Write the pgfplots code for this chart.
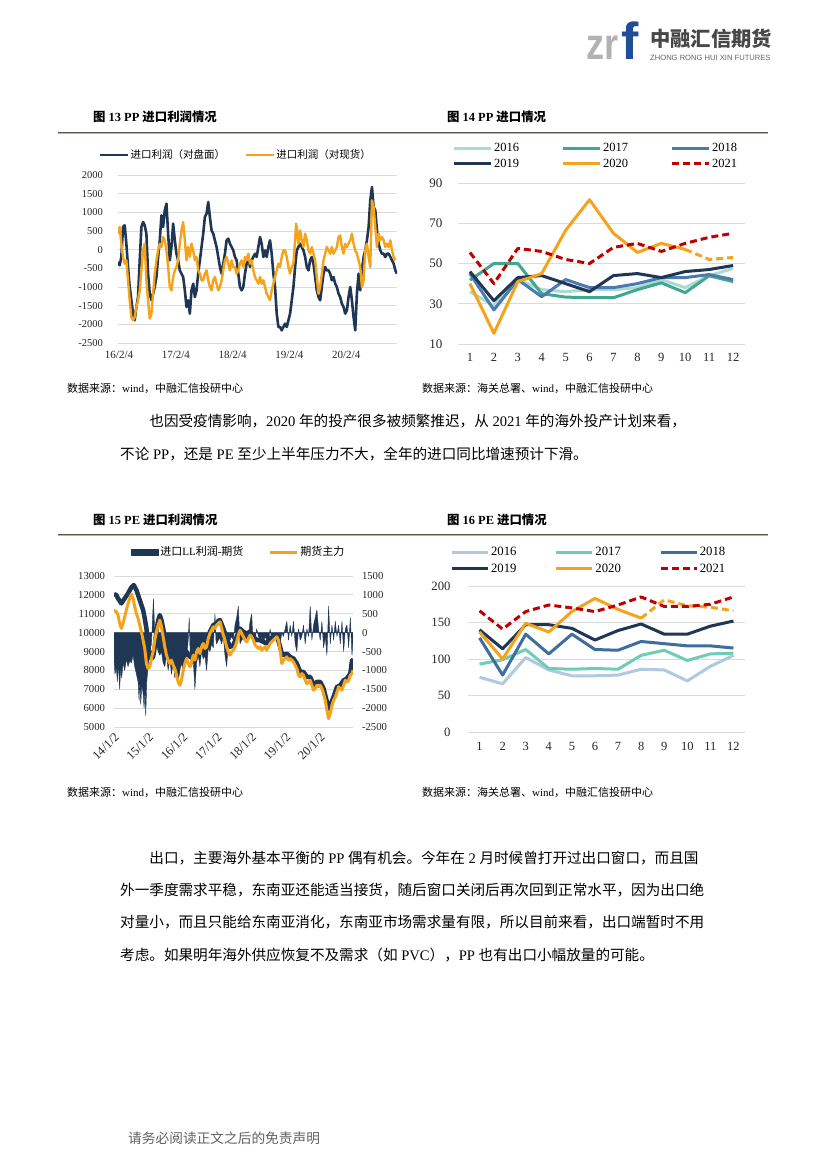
\documentclass[border=0pt]{standalone}
\usepackage{fontspec}
\setmainfont{Liberation Serif}
\setsansfont{Liberation Sans}
\newfontfamily\cjk{Noto Sans CJK SC}
\usepackage{pgfplots}
\pgfplotsset{compat=1.18}
\newcommand\C[1]{{\cjk #1}}
\newcommand\fs[1]{\fontsize{#1}{#1}\selectfont}

\definecolor{cnavy}{HTML}{1F3755}
\definecolor{corg}{HTML}{F5A31A}
\definecolor{aA}{HTML}{A8DCD0}
\definecolor{aB}{HTML}{40A891}
\definecolor{aC}{HTML}{4A7AB0}
\definecolor{bA}{HTML}{B0C8E0}
\definecolor{bB}{HTML}{6ECDB4}
\definecolor{bC}{HTML}{3E6E9E}
\definecolor{cred}{HTML}{C00000}
\definecolor{crule}{HTML}{5A5A4B}
\definecolor{logoblue}{HTML}{1F4E96}

\pgfplotsset{
  base/.style={
    scale only axis, anchor=south west,
    axis line style={draw=none},
    major tick length=0pt, tick style={draw=none},
    ymajorgrids, grid style={line width=0.8pt, draw=black!14},
    scaled y ticks=false, scaled x ticks=false,
    /pgf/number format/assume math mode=true,
    /pgf/number format/1000 sep={},
    tick label style={text=black!85},
    every axis plot/.append style={line join=round},
    legend cell align=left,
    legend style={draw=none, fill=none, inner sep=0pt, outer sep=0pt, anchor=west},
  }
}

\begin{document}
\begin{tikzpicture}[x=1pt,y=1pt]
\path[use as bounding box, fill=white] (0,0) rectangle (826,-1169);

% ---------- header logo
\node[anchor=base west, inner sep=0, text=black!30] at (586,-60) {\fs{44}\sffamily\bfseries\scalebox{0.82}[1]{zr}};
\node[anchor=base west, inner sep=0, text=logoblue] at (621,-60) {\fs{52}\sffamily\bfseries f};
\node[anchor=west, inner sep=0, text=black!72] at (650,-39) {\fs{20.3}\cjk\bfseries 中融汇信期货};
\node[anchor=west, inner sep=0, text=black!60] at (650,-57.5) {\fs{7.6}\sffamily ZHONG RONG HUI XIN FUTURES};

% ---------- titles and rules
\node[anchor=base west, inner sep=0] at (93,-121.7) {\fs{12.4}\bfseries\C{图} 13 PP \C{进口利润情况}};
\node[anchor=base west, inner sep=0] at (447,-121.7) {\fs{12.4}\bfseries\C{图} 14 PP \C{进口情况}};
\node[anchor=base west, inner sep=0] at (93,-524.7) {\fs{12.4}\bfseries\C{图} 15 PE \C{进口利润情况}};
\node[anchor=base west, inner sep=0] at (447,-524.7) {\fs{12.4}\bfseries\C{图} 16 PE \C{进口情况}};
\foreach \yy in {-133,-535}{
  \draw[crule, line width=2.8pt] (58,\yy) -- (768,\yy);
  \draw[black!30, line width=0.7pt] (58,\yy) -- (768,\yy);
}

% ---------- sources
\node[anchor=base west, inner sep=0] at (67,-392.2) {\fs{11}\C{数据来源：}wind\C{，中融汇信投研中心}};
\node[anchor=base west, inner sep=0] at (422,-392.2) {\fs{11}\C{数据来源：海关总署、}wind\C{，中融汇信投研中心}};
\node[anchor=base west, inner sep=0] at (67,-796.9) {\fs{11}\C{数据来源：}wind\C{，中融汇信投研中心}};
\node[anchor=base west, inner sep=0] at (422,-796.9) {\fs{11}\C{数据来源：海关总署、}wind\C{，中融汇信投研中心}};

% ---------- body text
\begin{scope}[every node/.style={anchor=base west, inner sep=0, font=\fs{14.6}}]
\node at (149.2,-426.5) {\C{也因受疫情影响，}2020 \C{年的投产很多被频繁推迟，从} 2021 \C{年的海外投产计划来看，}};
\node at (120,-459.5) {\C{不论} PP\C{，还是} PE \C{至少上半年压力不大，全年的进口同比增速预计下滑。}};
\node at (149.2,-863.5) {\C{出口，主要海外基本平衡的} PP \C{偶有机会。今年在} 2 \C{月时候曾打开过出口窗口，而且国}};
\node at (120,-895.5) {\C{外一季度需求平稳，东南亚还能适当接货，随后窗口关闭后再次回到正常水平，因为出口绝}};
\node at (120,-927.5) {\C{对量小，而且只能给东南亚消化，东南亚市场需求量有限，所以目前来看，出口端暂时不用}};
\node at (120,-960.5) {\C{考虑。如果明年海外供应恢复不及需求（如} PVC\C{），}PP \C{也有出口小幅放量的可能。}};
\end{scope}
\node[anchor=base west, inner sep=0, text=black!62] at (128,-1143.2) {\fs{13.7}\C{请务必阅读正文之后的免责声明}};

% ================= Chart 13: PP import profit
\begin{axis}[base, at={(118pt,-343pt)}, width=279pt, height=168pt,
  xmin=175, xmax=1010, ymin=-2500, ymax=2000,
  ytick={-2500,-2000,...,2000},
  xtick={178,348,518,688,858},
  xticklabels={16/2/4,17/2/4,18/2/4,19/2/4,20/2/4},
  yticklabel style={font=\fs{10.5}, xshift=-11.5pt},
  xticklabel style={font=\fs{11}, yshift=-5pt},
  legend columns=2,
  legend style={at={(-0.0699,1.119)}, nodes={inner sep=1.5pt, font=\fs{10.5}},
    /tikz/every even column/.append style={column sep=18pt}},
  legend image code/.code={\draw[#1] (0pt,0pt) -- (28pt,0pt);},
]
\addplot[cnavy, line width=2.6pt] coordinates {(175,-330)(180,-420)(185,-196)(190,607)(195,652)(200,161)(205,-464)(210,-1000)(215,-1357)(220,-1714)(225,-1893)(230,-1536)(235,-1268)(240,-286)(245,607)(250,741)(255,652)(260,429)(265,-643)(270,-1179)(275,-1357)(280,-1179)(285,-1000)(290,-732)(295,-196)(300,250)(305,920)(310,607)(315,1054)(320,1232)(325,429)(330,-286)(335,71)(340,697)(345,250)(350,-107)(355,-286)(360,-554)(365,-643)(370,-732)(375,-1089)(380,-1536)(385,-1357)(390,-1714)(395,-1089)(400,-911)(405,-1268)(410,-1089)(415,-643)(420,-286)(425,71)(430,429)(435,875)(440,964)(445,1277)(450,875)(455,518)(460,429)(465,250)(470,71)(475,-196)(480,-464)(485,-643)(490,-375)(495,-107)(500,250)(505,295)(510,161)(515,71)(520,-18)(525,-196)(530,-286)(535,-643)(540,-1000)(545,-1089)(550,-1000)(555,-643)(560,-375)(565,-196)(570,-464)(575,-286)(580,-196)(585,-107)(590,-196)(595,71)(600,339)(605,161)(610,-196)(615,-18)(620,-196)(625,71)(630,250)(635,-107)(640,-643)(645,-1000)(650,-1714)(655,-2071)(660,-2071)(665,-2161)(670,-2071)(675,-1982)(680,-2071)(685,-1893)(690,-1714)(695,-1357)(700,-1000)(705,-464)(710,-18)(715,71)(720,161)(725,71)(730,-18)(735,-196)(740,-464)(745,-554)(750,-286)(755,-196)(760,-375)(765,-732)(770,-1089)(775,-1268)(780,-1357)(785,-1000)(790,-643)(795,-464)(800,-554)(805,-554)(810,-643)(815,-821)(820,-732)(825,-911)(830,-1000)(835,-1179)(840,-1268)(845,-1446)(850,-1536)(855,-1714)(860,-1625)(865,-1268)(870,-1000)(875,-1357)(880,-1804)(885,-2161)(890,-1179)(895,-643)(900,-1089)(905,-554)(910,-196)(915,-18)(920,250)(925,607)(930,1322)(935,1679)(940,1143)(945,1054)(950,518)(955,161)(960,-18)(965,-107)(970,-107)(975,-196)(980,-107)(985,-107)(990,-196)(995,-286)(1000,-375)(1005,-554)(1010,-643)};
\addlegendentry{\C{进口利润（对盘面）}}
\addplot[corg, line width=2.4pt] coordinates {(175,429)(180,607)(185,161)(190,-196)(195,-375)(200,-286)(205,-821)(210,-1357)(215,-1804)(220,-1893)(225,-1804)(230,-1536)(235,-1357)(240,-1089)(245,-554)(250,-18)(255,161)(260,-821)(265,-1357)(270,-1848)(275,-1714)(280,-1179)(285,-643)(290,-286)(295,-18)(300,161)(305,71)(310,339)(315,250)(320,-18)(325,-464)(330,-1000)(335,-1089)(340,-732)(345,-554)(350,-464)(355,-286)(360,161)(365,518)(370,741)(375,250)(380,-286)(385,71)(390,-196)(395,161)(400,-18)(405,-286)(410,-196)(415,-554)(420,-643)(425,-821)(430,-821)(435,-643)(440,-554)(445,-821)(450,-1000)(455,-1089)(460,-821)(465,-732)(470,-911)(475,-1089)(480,-1000)(485,-821)(490,-554)(495,-286)(500,-196)(505,-375)(510,-554)(515,-286)(520,-464)(525,-464)(530,-643)(535,-554)(540,-375)(545,-286)(550,-464)(555,-196)(560,-286)(565,-107)(570,-375)(575,-286)(580,-554)(585,-732)(590,-821)(595,-911)(600,-732)(605,-911)(610,-821)(615,-1000)(620,-1179)(625,-1268)(630,-1357)(635,-1089)(640,-911)(645,-732)(650,-554)(655,-375)(660,-464)(665,-196)(670,-18)(675,-18)(680,-196)(685,-464)(690,-643)(695,-464)(700,-375)(705,250)(708,697)(712,429)(715,161)(720,518)(725,250)(730,71)(735,429)(740,250)(745,-18)(750,-107)(755,71)(760,-107)(765,-286)(770,-732)(775,-1179)(780,-1000)(785,-643)(790,-286)(795,-107)(800,71)(805,-18)(810,-107)(815,71)(820,-107)(825,-18)(830,71)(835,339)(840,384)(845,71)(850,-107)(855,161)(860,71)(865,161)(870,250)(875,429)(880,161)(885,-18)(890,-107)(895,-286)(900,-464)(905,-1000)(910,-821)(915,-18)(920,161)(925,-196)(930,-464)(935,1322)(940,1143)(945,607)(950,71)(955,429)(960,250)(965,339)(970,250)(975,71)(980,161)(985,71)(990,250)(995,-18)(1000,-196)(1005,-286)};
\addlegendentry{\C{进口利润（对现货）}}
\end{axis}

% ================= Chart 14: PP imports
\begin{axis}[base, at={(458pt,-344pt)}, width=287pt, height=161pt,
  xmin=0.5, xmax=12.5, ymin=10, ymax=90,
  xtick={1,...,12}, ytick={10,30,50,70,90},
  yticklabel style={font=\fs{13}, xshift=-12pt},
  xticklabel style={font=\fs{12.5}, yshift=-6pt},
  legend columns=3,
  legend style={at={(-0.019,1.168)}, row sep=2.5pt, nodes={inner sep=1.5pt, font=\fs{12.5}},
    /tikz/every even column/.append style={column sep=41pt}},
  legend image code/.code={\draw[#1] (0pt,0pt) -- (37pt,0pt);},
]
\addplot[aA, line width=3pt] coordinates {(1,36)(2,29)(3,42)(4,37)(5,36)(6,37)(7,37)(8,38)(9,42)(10,38)(11,44)(12,47.5)};
\addlegendentry{2016}
\addplot[aB, line width=3pt] coordinates {(1,41.7)(2,50)(3,50)(4,35)(5,33.3)(6,33)(7,33)(8,37)(9,40.4)(10,35.5)(11,43.9)(12,41)};
\addlegendentry{2017}
\addplot[aC, line width=3pt] coordinates {(1,45)(2,26.9)(3,42)(4,33.5)(5,42)(6,38)(7,38)(8,40)(9,43)(10,43)(11,44.5)(12,42)};
\addlegendentry{2018}
\addplot[cnavy, line width=3pt] coordinates {(1,46)(2,31.5)(3,43)(4,44)(5,40)(6,36)(7,44)(8,45)(9,43)(10,46)(11,47)(12,49)};
\addlegendentry{2019}
\addplot[corg, line width=3pt] coordinates {(1,40)(2,15.3)(3,41)(4,45)(5,66.5)(6,81.7)(7,65)(8,55.5)(9,60)(10,57)};
\addlegendentry{2020}
\addplot[corg, line width=3pt, dash pattern=on 7pt off 4pt, forget plot] coordinates {(10,57)(11,52)(12,53)};
\addplot[cred, line width=3pt, dash pattern=on 7pt off 4pt] coordinates {(1,55.5)(2,40)(3,57.5)(4,56)(5,52)(6,50)(7,58)(8,60)(9,56)(10,60)(11,63)(12,65)};
\addlegendentry{2021}
\end{axis}

% ================= Chart 15: PE import profit (right axis: profit area)
\begin{axis}[base, at={(114pt,-727pt)}, width=239pt, height=151pt,
  xmin=163, xmax=878, ymin=-2500, ymax=1500,
  ytick={-2500,-2000,...,1500}, xtick=\empty,
  yticklabel pos=right,
  yticklabel style={font=\fs{10.7}, anchor=west, xshift=5.5pt},
]
\addplot[fill=cnavy, draw=cnavy, line width=0.4pt] coordinates {(163,-700)(166,-1100)(170,-900)(173,-1300)(176,-800)(180,-1500)(183,-900)(186,-1200)(190,-800)(195,-1000)(200,-700)(205,-900)(210,-750)(215,-800)(220,-600)(225,-900)(230,-1100)(235,-1300)(238,-1800)(240,-1200)(243,-1900)(246,-1400)(250,-1600)(253,-2000)(256,-1500)(258,-2200)(261,-1300)(265,-900)(270,-500)(275,-300)(278,300)(281,900)(284,200)(287,-400)(290,-300)(295,-500)(300,-600)(305,-500)(310,-800)(315,-900)(320,-600)(325,-1000)(330,-700)(335,-1100)(340,-800)(345,-1200)(350,-900)(355,-1300)(360,-1000)(365,-800)(370,-1100)(375,-900)(380,-700)(385,-200)(388,400)(391,-600)(395,-900)(400,-700)(405,-1500)(410,-800)(415,-600)(420,-900)(425,-500)(430,-700)(435,-600)(440,-1000)(445,-400)(450,-500)(455,-300)(460,-400)(465,500)(468,-200)(470,-300)(475,-200)(480,-150)(485,-300)(490,-100)(495,-600)(500,-900)(505,-300)(510,-200)(515,-100)(520,-200)(525,200)(530,400)(535,700)(538,100)(540,-300)(545,-200)(550,-150)(555,-100)(560,-200)(565,-100)(570,300)(575,500)(578,-100)(580,-100)(585,-200)(590,100)(595,-100)(600,-200)(605,-100)(610,-300)(615,-100)(620,-200)(625,-300)(630,100)(635,-200)(640,-100)(645,-200)(650,-100)(655,-200)(660,-300)(665,0)(670,-100)(675,100)(680,300)(685,-200)(690,200)(695,-100)(700,300)(705,-300)(710,-500)(715,100)(720,-200)(725,-100)(730,200)(735,-300)(740,100)(745,-100)(750,700)(755,-200)(760,200)(765,400)(770,600)(775,100)(780,-200)(785,300)(790,-400)(795,-100)(800,-600)(805,700)(810,-300)(815,200)(820,-200)(825,300)(830,-100)(835,200)(840,-300)(845,300)(850,-500)(855,100)(860,200)(865,-400)(870,400)(875,-600)(878,-200)} \closedcycle;
\end{axis}
% left axis: prices
\begin{axis}[base, at={(114pt,-727pt)}, width=239pt, height=151pt,
  ymajorgrids=false,
  xmin=163, xmax=878, ymin=5000, ymax=13000,
  ytick={5000,6000,...,13000},
  xtick={163,265,368,470,573,676,778},
  xticklabels={14/1/2,15/1/2,16/1/2,17/1/2,18/1/2,19/1/2,20/1/2},
  yticklabel style={font=\fs{10.7}, xshift=-5.5pt},
  xticklabel style={font=\fs{12.5}, rotate=45, anchor=north east},
  legend columns=2,
  legend style={at={(0.073,1.159)}, nodes={inner sep=1.5pt, font=\fs{11}},
    /tikz/every even column/.append style={column sep=24pt}},
  legend image code/.code={\draw[#1] (0pt,0pt) -- (27pt,0pt);},
]
\addlegendimage{legend image code/.code={\fill[cnavy] (0pt,-3pt) rectangle (27pt,3pt);}}
\addlegendentry{\C{进口}LL\C{利润}-\C{期货}}
\addplot[cnavy, line width=4.5pt, forget plot] coordinates {(163,12044)(170,11991)(175,11814)(185,11549)(195,11814)(205,12080)(215,12398)(222,12522)(230,12257)(240,11726)(250,11195)(255,10752)(260,10221)(265,9425)(270,8717)(275,8628)(280,8717)(285,9248)(290,10133)(295,10628)(300,10929)(305,10664)(310,10221)(315,9779)(320,9425)(325,9248)(330,9071)(340,8982)(350,8717)(355,8540)(360,8363)(365,8540)(370,8805)(380,8982)(390,8717)(400,8982)(410,9248)(420,9336)(430,9602)(440,9602)(450,10044)(460,10398)(470,10487)(475,10628)(480,10664)(490,10221)(500,9690)(510,9248)(520,9336)(530,9779)(540,10221)(550,10044)(560,9956)(570,10044)(580,9779)(590,9602)(600,9602)(610,9513)(620,9425)(630,9690)(640,9779)(650,9867)(660,9248)(665,8894)(670,8805)(680,8894)(690,8717)(700,8628)(710,8363)(720,7920)(730,7920)(740,7655)(750,7655)(760,7212)(770,7389)(780,7389)(790,7035)(800,6327)(805,5973)(810,6150)(820,6593)(830,7124)(840,7212)(850,7478)(860,7566)(870,7832)(875,8540)(878,8363)};
\addplot[corg, line width=3pt] coordinates {(163,11195)(170,11106)(175,10929)(180,10487)(185,10221)(190,10487)(195,10841)(200,11195)(205,11549)(210,11814)(215,12044)(220,11814)(225,11372)(230,11018)(235,10752)(240,10398)(245,10044)(250,9602)(255,9159)(260,8363)(265,8097)(270,8186)(275,8628)(280,8982)(285,9602)(290,10044)(295,10398)(300,10664)(305,10310)(310,9779)(315,9248)(320,8805)(325,8540)(330,8363)(335,8540)(340,8274)(345,8097)(350,7743)(355,7389)(360,7212)(365,7478)(370,8009)(375,8363)(380,8628)(385,8363)(390,8186)(395,8451)(400,8805)(405,8540)(410,8982)(415,9159)(420,8894)(425,9248)(430,9425)(435,9159)(440,9248)(445,9690)(450,9956)(455,10133)(460,10310)(465,10221)(470,10398)(475,10487)(480,10575)(485,10221)(490,9867)(495,9602)(500,9248)(505,8982)(510,8805)(515,8982)(520,9071)(525,9248)(530,9513)(535,9867)(540,10133)(545,9956)(550,9779)(555,9602)(560,9513)(565,9690)(570,9867)(575,9779)(580,9602)(585,9336)(590,9248)(595,9159)(600,9248)(605,9071)(610,9159)(615,9248)(620,9071)(625,9248)(630,9425)(635,9513)(640,9602)(645,9690)(650,9779)(655,9602)(660,9071)(665,8363)(670,8540)(675,8628)(680,8717)(685,8540)(690,8628)(695,8540)(700,8451)(705,8274)(710,8097)(715,7743)(720,7655)(725,7832)(730,7743)(735,7478)(740,7300)(745,7389)(750,7478)(755,7212)(760,6947)(765,7035)(770,7212)(775,7124)(780,7212)(785,7035)(790,6770)(795,6416)(800,5885)(805,5442)(810,5708)(815,6150)(820,6416)(825,6593)(830,6858)(835,7124)(840,7035)(845,6947)(850,7212)(855,7478)(860,7389)(865,7478)(870,7743)(875,7832)(878,8009)};
\addlegendentry{\C{期货主力}}
\end{axis}

% ================= Chart 16: PE imports
\begin{axis}[base, at={(468pt,-732pt)}, width=277pt, height=146pt,
  xmin=0.5, xmax=12.5, ymin=0, ymax=200,
  xtick={1,...,12}, ytick={0,50,...,200},
  yticklabel style={font=\fs{12.7}, xshift=-14pt},
  xticklabel style={font=\fs{12.5}, yshift=-7pt},
  legend columns=3,
  legend style={at={(-0.063,1.175)}, row sep=3.5pt, nodes={inner sep=1.5pt, font=\fs{12.7}},
    /tikz/every even column/.append style={column sep=37pt}},
  legend image code/.code={\draw[#1] (0pt,0pt) -- (36pt,0pt);},
]
\addplot[bA, line width=3pt] coordinates {(1,75)(2,66)(3,102)(4,85)(5,77)(6,77)(7,78)(8,86)(9,85)(10,70)(11,90)(12,105)};
\addlegendentry{2016}
\addplot[bB, line width=3pt] coordinates {(1,93)(2,99)(3,113)(4,87)(5,86)(6,87)(7,86)(8,105)(9,112)(10,98)(11,107)(12,108)};
\addlegendentry{2017}
\addplot[bC, line width=3pt] coordinates {(1,129)(2,78)(3,134)(4,107)(5,134)(6,113)(7,112)(8,124)(9,121)(10,118)(11,118)(12,115)};
\addlegendentry{2018}
\addplot[cnavy, line width=3pt] coordinates {(1,140)(2,114)(3,147)(4,147)(5,142)(6,126)(7,139)(8,148)(9,134)(10,134)(11,145)(12,152)};
\addlegendentry{2019}
\addplot[corg, line width=3pt] coordinates {(1,137)(2,100)(3,149)(4,137)(5,165)(6,183)(7,168)(8,156)};
\addlegendentry{2020}
\addplot[corg, line width=3pt, dash pattern=on 7pt off 4pt, forget plot] coordinates {(8,156)(9,181)(10,173)(11,171)(12,166)};
\addplot[cred, line width=3pt, dash pattern=on 7pt off 4pt] coordinates {(1,166)(2,141)(3,165)(4,174)(5,170)(6,165)(7,174)(8,185)(9,172)(10,172)(11,175)(12,185)};
\addlegendentry{2021}
\end{axis}
\end{tikzpicture}
\end{document}
